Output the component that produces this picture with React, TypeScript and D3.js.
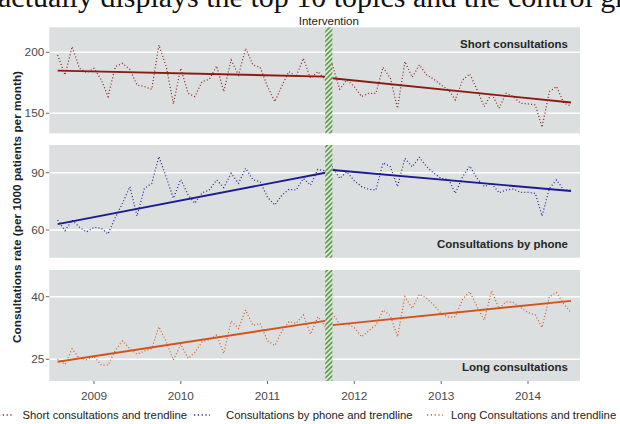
import React from "react";
import * as d3 from "d3";

// ---------- data ----------
const startYear = 2008;
const startMonthIndex = 7; // August 2008 (0-based month)
const breakIndex = 38; // first month after the intervention
const interventionStart = [2011, 8, 1];
const interventionEnd = [2011, 9, 1];
const yearTicks = [2009, 2010, 2011, 2012, 2013, 2014];

const shortValues = [
  197.8, 181.4, 204.6, 186.9, 183.3, 186.9, 177.3, 163.7, 188.3, 191.0, 186.0, 173.2,
  171.9, 169.7, 206.0, 188.3, 157.7, 186.9, 166.4, 163.7, 176.0, 177.9, 188.8, 167.8,
  193.7, 181.4, 203.3, 189.6, 187.7, 171.9, 159.6, 171.9, 184.2, 180.1, 195.1, 178.7,
  184.2, 177.3,
  189.6, 169.7, 177.3, 171.9, 163.7, 166.4, 166.4, 187.7, 178.7, 154.1, 192.4, 179.5,
  189.6, 181.4, 177.9, 173.2, 169.1, 161.0, 177.3, 182.3, 169.1, 155.5, 166.4, 154.1,
  166.4, 163.7, 158.2, 157.7, 156.9, 138.6, 167.8, 171.9, 158.2, 156.0,
];
const phoneValues = [
  65.2, 59.7, 65.2, 61.4, 59.0, 61.4, 60.9, 57.9, 66.6, 74.0, 82.7, 67.3,
  81.8, 84.4, 98.4, 87.6, 76.6, 86.5, 78.3, 74.0, 79.5, 80.9, 86.2, 82.2,
  89.7, 84.4, 92.3, 86.2, 85.3, 77.1, 73.1, 78.0, 81.3, 80.9, 87.0, 83.5,
  91.7, 91.0,
  93.1, 87.0, 90.5, 85.8, 82.7, 81.3, 80.9, 95.2, 93.1, 82.7, 97.5, 93.1,
  98.0, 93.1, 89.7, 87.0, 86.5, 79.2, 87.9, 93.5, 87.0, 82.7, 84.4, 79.5,
  80.9, 81.5, 79.7, 79.7, 79.2, 67.3, 81.8, 86.2, 80.9, 80.9,
];
const longValues = [
  25.1, 23.8, 27.5, 25.2, 24.9, 25.7, 23.6, 23.6, 27.2, 29.4, 27.5, 26.2,
  27.0, 27.6, 32.8, 29.2, 24.8, 28.6, 25.2, 26.6, 29.2, 29.7, 30.8, 26.4,
  34.2, 32.4, 36.8, 33.1, 33.6, 29.4, 28.3, 31.6, 34.0, 33.6, 35.6, 31.0,
  35.2, 32.8,
  36.0, 33.4, 33.6, 32.6, 30.4, 31.8, 33.2, 36.8, 35.4, 30.4, 40.0, 37.2,
  40.6, 39.6, 38.0, 36.0, 35.1, 35.2, 39.4, 41.2, 37.6, 34.4, 41.4, 37.2,
  38.8, 38.6, 37.4, 36.2, 35.6, 32.6, 40.0, 41.0, 38.2, 36.2,
];
// trend: [pre start, pre end, post start, post end]
const shortTrend = [185.0, 180.1, 178.7, 158.8];
const phoneTrend = [63.1, 90.0, 91.4, 80.4];
const longTrend = [24.4, 34.2, 33.2, 39.0];

const shortTicks = [150, 200];
const phoneTicks = [60, 90];
const longTicks = [25, 40];

const panelNames = ["Short consultations", "Consultations by phone", "Long consultations"];
const legendLabels = [
  "Short consultations and trendline",
  "Consultations by phone and trendline",
  "Long Consultations and trendline",
];

// ---------- layout ----------
const W = 620;
const H = 424;
const left = 49.3;
const right = 580;
const FONT = "'Liberation Sans', Arial, Helvetica, sans-serif";

const panels = [
  { name: panelNames[0], values: shortValues, trend: shortTrend, ticks: shortTicks, top: 27.3, bottom: 133.3, domain: [133.6, 220.5], dot: "#8f2418", line: "#8b1a10", labelTop: true },
  { name: panelNames[1], values: phoneValues, trend: phoneTrend, ticks: phoneTicks, top: 145, bottom: 257.7, domain: [45.5, 104.5], dot: "#26269a", line: "#1c1c8e", labelTop: false },
  { name: panelNames[2], values: longValues, trend: longTrend, ticks: longTicks, top: 270, bottom: 381, domain: [19.8, 46.4], dot: "#d65a22", line: "#d2541c", labelTop: false },
];

const dates = shortValues.map((_, i) => d3.timeMonth.offset(new Date(startYear, startMonthIndex, 1), i));
const x = d3.scaleTime().domain([new Date(2009, 0, 1), new Date(2014, 0, 1)]).range([94, 528]);

export default function App() {
  const bandX0 = x(new Date(interventionStart[0], interventionStart[1], interventionStart[2]));
  const bandX1 = x(new Date(interventionEnd[0], interventionEnd[1], interventionEnd[2]));
  const legendText = [22.5, 226, 451];
  const legendKey = [[-1, 14], [194, 210], [427, 443]];

  return (
    <div style={{ position: "absolute", left: 0, top: 0, width: W, height: H, background: "#fff" }}>
      <svg width={W} height={H} style={{ display: "block" }}>
        <defs>
          <pattern id="hatch" patternUnits="userSpaceOnUse" width="3.4" height="3.4" patternTransform="rotate(45)">
            <rect width="3.4" height="3.4" fill="#e4e8e2" />
            <line x1="0.9" y1="0" x2="0.9" y2="3.4" stroke="#5a9e48" strokeWidth="1.7" />
          </pattern>
        </defs>
        <text x={-2} y={7} fontFamily="'Liberation Serif', 'Times New Roman', serif" fontSize={30} fill="#111">
          actually displays the top 10 topics and the control gr
        </text>
        <text x={(bandX0 + bandX1) / 2} y={24.5} textAnchor="middle" fontFamily={FONT} fontSize={11.5} fill="#222">
          Intervention
        </text>
        {panels.map((p, pi) => {
          const y = d3.scaleLinear().domain(p.domain).range([p.bottom, p.top]);
          const line = d3.line<number>().x((_, i) => x(dates[i])).y((d) => y(d));
          const trendPts: [Date, number][][] = [
            [[dates[0], p.trend[0]], [dates[breakIndex - 1], p.trend[1]]],
            [[dates[breakIndex], p.trend[2]], [dates[dates.length - 1], p.trend[3]]],
          ];
          const tl = d3.line<[Date, number]>().x((d) => x(d[0])).y((d) => y(d[1]));
          return (
            <g key={pi}>
              <rect x={left} y={p.top} width={right - left} height={p.bottom - p.top} fill="#dcdfe0" />
              {p.ticks.map((t) => (
                <g key={t}>
                  <line x1={left} x2={right} y1={y(t)} y2={y(t)} stroke="#fff" strokeWidth={1.4} />
                  <line x1={left - 3.5} x2={left} y1={y(t)} y2={y(t)} stroke="#666" strokeWidth={1} />
                  <text x={left - 5} y={y(t)} dy="0.35em" textAnchor="end" fontFamily={FONT} fontSize={11.8} fill="#4a4a4a">
                    {t}
                  </text>
                </g>
              ))}
              <path d={line(p.values) || ""} fill="none" stroke={p.dot} strokeWidth={1.25} strokeDasharray="1 2.2" />
              {trendPts.map((seg, si) => (
                <path key={si} d={tl(seg) || ""} fill="none" stroke={p.line} strokeWidth={1.9} />
              ))}
              <rect x={bandX0} y={p.top} width={bandX1 - bandX0} height={p.bottom - p.top} fill="url(#hatch)" />
              <text
                x={568}
                y={p.labelTop ? p.top + 17 : p.bottom - 14}
                dy="0.35em"
                textAnchor="end"
                fontFamily={FONT}
                fontWeight="bold"
                fontSize={11.5}
                fill="#262626"
              >
                {p.name}
              </text>
            </g>
          );
        })}
        {yearTicks.map((yr) => {
          const xx = x(new Date(yr, 0, 1));
          return (
            <g key={yr}>
              <line x1={xx} x2={xx} y1={381} y2={384} stroke="#666" strokeWidth={1} />
              <text x={xx} y={399.5} textAnchor="middle" fontFamily={FONT} fontSize={11.8} fill="#4a4a4a">
                {yr}
              </text>
            </g>
          );
        })}
        <text
          transform={`translate(17,207) rotate(-90)`}
          textAnchor="middle"
          dy="0.35em"
          fontFamily={FONT}
          fontWeight="bold"
          fontSize={11.8}
          fill="#222"
        >
          Consultations rate (per 1000 patients per month)
        </text>
        {legendLabels.map((lab, i) => (
          <g key={i}>
            <line
              x1={legendKey[i][0]}
              x2={legendKey[i][1]}
              y1={415}
              y2={415}
              stroke={panels[i].dot}
              strokeWidth={1.4}
              strokeDasharray="1.2 2.6"
            />
            <text x={legendText[i]} y={419} fontFamily={FONT} fontSize={11.3} fill="#222">
              {lab}
            </text>
          </g>
        ))}
      </svg>
    </div>
  );
}
